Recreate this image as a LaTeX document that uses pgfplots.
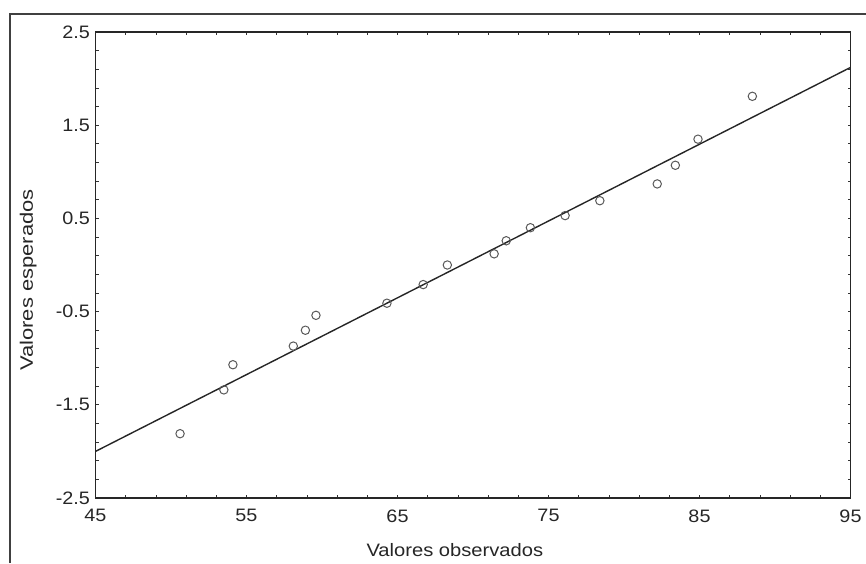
\documentclass[border=0pt]{standalone}
\usepackage{fontspec}
\setmainfont{Liberation Sans}
\usepackage{pgfplots}
\pgfplotsset{compat=1.18}

\begin{document}
\begin{tikzpicture}
% page extent
\path[use as bounding box] (0pt,0pt) rectangle (866pt,563pt);
% outer frame
\draw[line width=1.4pt, black!75] (10pt,0pt) -- (10pt,549pt) -- (866pt,549pt);

\begin{axis}[
  at={(95.5pt,65pt)}, anchor=south west,
  scale only axis, width=755pt, height=466pt,
  xmin=45, xmax=95, ymin=-2.5, ymax=2.5,
  xtick={45,55,...,95}, ytick={-2.5,-1.5,...,2.5},
  minor x tick num=4, minor y tick num=4,
  tick align=inside, major tick length=3pt, minor tick length=3pt,
  tick style={black!80, line width=0.8pt},
  axis line style={black!85, line width=1.4pt},
  /pgf/number format/assume math mode=true,
  xticklabel={\scalebox{1.1}[1]{\pgfmathprintnumber{\tick}}},
  yticklabel={\scalebox{1.1}[1]{\pgfmathprintnumber[fixed,fixed zerofill,precision=1]{\tick}}},
  xticklabel style={font=\fontsize{18}{20}\selectfont, yshift=-8pt, text=black!85},
  yticklabel style={font=\fontsize{18}{20}\selectfont, xshift=-2pt, text=black!85},
  xlabel={\scalebox{1.12}[1]{Valores observados}},
  ylabel={\scalebox{1.22}[1]{Valores esperados}},
  xlabel style={font=\fontsize{18}{20}\selectfont, text=black!85, at={(axis description cs:0.476,-0.111)}, anchor=center},
  ylabel style={font=\fontsize{18}{20}\selectfont, text=black!85, at={(axis description cs:-0.089,0.468)}, anchor=center},
  clip=false,
]
% fitted line
\addplot[black!85, line width=1.4pt] coordinates {(45,-2.0) (95,2.12)};
% observed vs expected
\addplot[only marks, mark=o, mark size=4.2pt, mark options={black!65, line width=1pt}]
  coordinates {
  (50.6,-1.81) (53.5,-1.34) (54.1,-1.07) (58.1,-0.87) (58.9,-0.70)
  (59.6,-0.54) (64.3,-0.41) (66.7,-0.21) (68.3,0.00) (71.4,0.12)
  (72.2,0.26) (73.8,0.40) (76.1,0.53) (78.4,0.69) (82.2,0.87)
  (83.4,1.07) (84.9,1.35) (88.5,1.81)
  };
\end{axis}
\end{tikzpicture}
\end{document}
